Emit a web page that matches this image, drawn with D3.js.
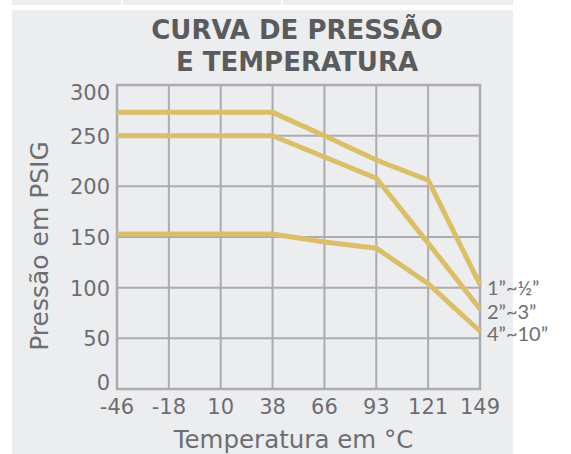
<!doctype html>
<html>
  <head>
    <meta charset="utf-8">
    <title>Curva de pressão e temperatura</title>
    <style>
      html, body { margin: 0; padding: 0; background: #ffffff; }
      svg { display: block; font-family: "DejaVu Sans", sans-serif; }
    </style>
  </head>
  <body>
    <svg id="chart" width="571" height="454"></svg>

<script src="https://cdn.jsdelivr.net/npm/d3@7"></script>

<script>
// temperatures (°C) along the bottom
var temps = ["-46", "-18", "10", "38", "66", "93", "121", "149"];
var pressTicks = [0, 50, 100, 150, 200, 250, 300];

var seriesNames = ["1”~½”", "2”~3”", "4”~10”"];
var small = [273, 273, 273, 273, 250, 226, 206, 103];
var medium = [250, 250, 250, 250, 229, 208, 144, 79];
var large = [153, 153, 153, 153, 145, 139, 104, 57];

var series = [small, medium, large];

var svg = d3.select("#chart");
var margin = { top: 85, right: 91, bottom: 65, left: 117 };
var width = 571 - margin.left - margin.right;
var height = 454 - margin.top - margin.bottom;

// background panel + the strip peeking in at the top
svg.append("rect").attr("x", 12).attr("y", 10).attr("width", 501).attr("height", 444).attr("fill", "#ecedef");
[[12, 109], [123, 158], [283, 230]].forEach(function(b) {
  svg.append("rect").attr("x", b[0]).attr("y", 0).attr("width", b[1]).attr("height", 5).attr("fill", "#ecedef");
});

var x = d3.scalePoint().domain(temps).range([0, width]);
var y = d3.scaleLinear().domain([0, 300]).range([height, 0]);

var g = svg.append("g").attr("transform", "translate(" + margin.left + "," + margin.top + ")");

// grid
g.append("g").selectAll("line").data(temps.slice(1, -1)).join("line")
  .attr("x1", function(d) { return x(d); }).attr("x2", function(d) { return x(d); })
  .attr("y1", 0).attr("y2", height)
  .attr("stroke", "#abacb1").attr("stroke-width", 2);
g.append("g").selectAll("line").data(pressTicks.slice(1, -1)).join("line")
  .attr("x1", 0).attr("x2", width)
  .attr("y1", function(d) { return y(d); }).attr("y2", function(d) { return y(d); })
  .attr("stroke", "#abacb1").attr("stroke-width", 2);
g.append("rect").attr("width", width).attr("height", height)
  .attr("fill", "none").attr("stroke", "#abacb1").attr("stroke-width", 2.5);

// curves
var line = d3.line()
  .x(function(d, i) { return x(temps[i]); })
  .y(function(d) { return y(d); });

g.append("g").selectAll("path").data(series).join("path")
  .attr("d", line)
  .attr("fill", "none")
  .attr("stroke", "#dbbf68")
  .attr("stroke-width", 5)
  .attr("stroke-linejoin", "miter");

// series labels at line ends
g.append("g").selectAll("text").data(series).join("text")
  .attr("x", width + 7)
  .attr("y", function(d) { return y(d[d.length - 1]) + 10; })
  .attr("font-family", "Lato, sans-serif")
  .attr("font-size", 20)
  .attr("fill", "#6d6e71")
  .text(function(d, i) { return seriesNames[i]; });

// y ticks; the end labels are kept inside the plot height
g.append("g").selectAll("text").data(pressTicks).join("text")
  .attr("x", -7)
  .attr("y", function(d) { return Math.min(Math.max(y(d) + 8, 15), height + 1); })
  .attr("text-anchor", "end")
  .attr("font-size", 21)
  .attr("fill", "#6d6e71")
  .text(function(d) { return d; });

g.append("g").selectAll("text").data(temps).join("text")
  .attr("x", function(d) { return x(d); })
  .attr("y", height + 25)
  .attr("text-anchor", "middle")
  .attr("font-size", 21)
  .attr("fill", "#6d6e71")
  .text(function(d) { return d; });

// axis titles
g.append("text")
  .attr("x", width / 2 - 5)
  .attr("y", height + 59)
  .attr("text-anchor", "middle")
  .attr("font-size", 24.5)
  .attr("fill", "#6d6e71")
  .text("Temperatura em °C");

svg.append("text")
  .attr("transform", "translate(48,246) rotate(-90)")
  .attr("text-anchor", "middle")
  .attr("font-size", 25)
  .attr("fill", "#6d6e71")
  .text("Pressão em PSIG");

// title
var title = svg.append("text")
  .attr("text-anchor", "middle")
  .attr("font-size", 26)
  .attr("font-weight", "bold")
  .attr("fill", "#5a5b5d");
title.append("tspan").attr("x", 297).attr("y", 39).text("CURVA DE PRESSÃO");
title.append("tspan").attr("x", 297).attr("y", 71).text("E TEMPERATURA");
</script>
  </body>
</html>
